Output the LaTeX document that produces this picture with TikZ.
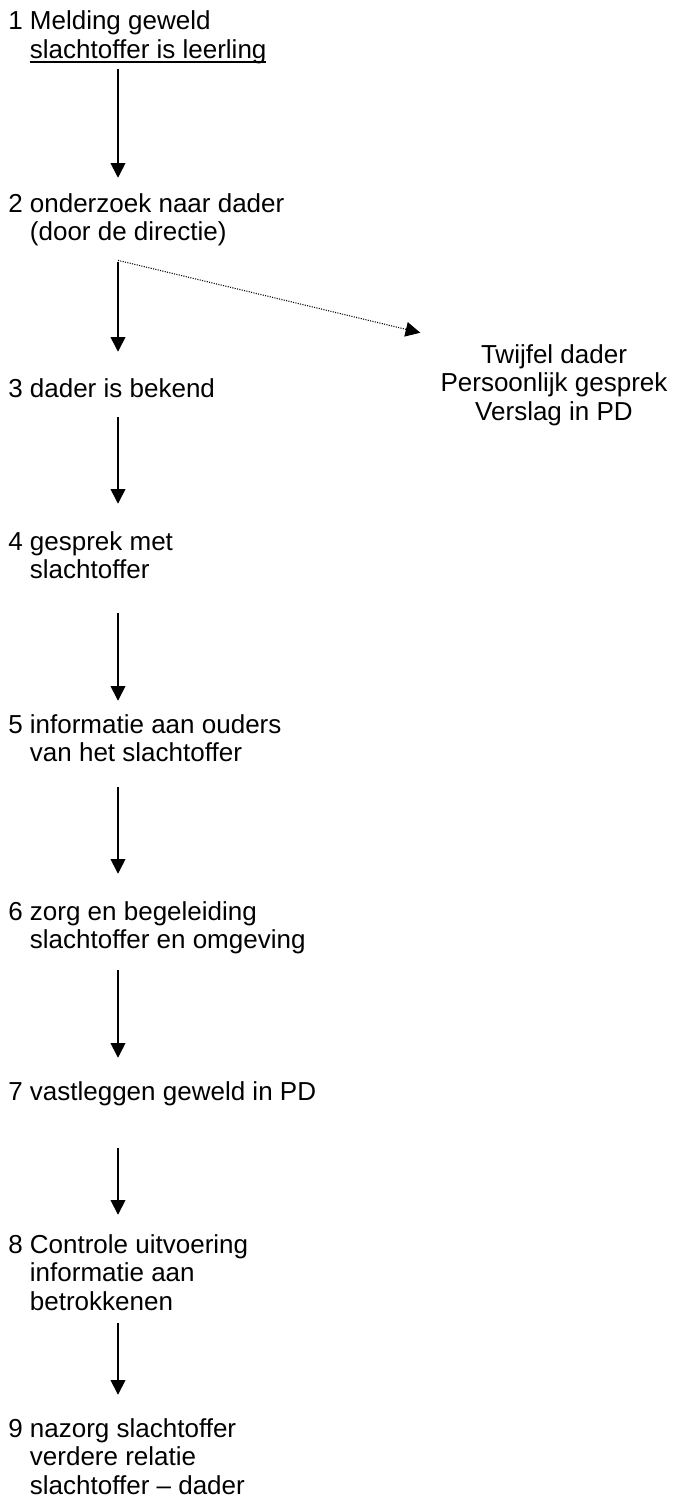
\documentclass[tikz,border=0pt]{standalone}
\usepackage{fontspec}
\setmainfont{Liberation Sans}
\usetikzlibrary{arrows.meta}

\newcommand{\stap}[2]{\begin{tabular}[t]{@{}l@{\ }l@{}}#1 & #2\end{tabular}}
\newcommand{\onderlijn}[1]{\setbox0\hbox{#1}\rlap{\rule[-3pt]{\wd0}{0.9pt}}\box0}

\begin{document}
\begin{tikzpicture}[x=0.75pt,y=-0.75pt,
  every node/.style={inner sep=0pt,font=\fontsize{19.5pt}{21.4pt}\selectfont},
  stapnode/.style={anchor=base west},
  pijl/.style={line width=1.2pt,-{Triangle[length=11pt,width=11pt]}},
  twijfel/.style={densely dotted,line width=0.8pt,-{Triangle[length=11pt,width=11pt]}}]

% the page
\useasboundingbox (0,0) rectangle (676,1502);
\coordinate (as) at (118,0);

% the steps
\node[stapnode] (s1) at (8,30) {\stap{1}{Melding geweld\\ & \onderlijn{slachtoffer is leerling}}};
\node[stapnode] (s2) at (8,212) {\stap{2}{onderzoek naar dader\\ & (door de directie)}};
\node[stapnode] (s3) at (8,397) {\stap{3}{dader is bekend}};
\node[stapnode] (s4) at (8,550) {\stap{4}{gesprek met\\ & slachtoffer}};
\node[stapnode] (s5) at (8,733) {\stap{5}{informatie aan ouders\\ & van het slachtoffer}};
\node[stapnode] (s6) at (8,920) {\stap{6}{zorg en begeleiding\\ & slachtoffer en omgeving}};
\node[stapnode] (s7) at (8,1100) {\stap{7}{vastleggen geweld in PD}};
\node[stapnode] (s8) at (8,1253) {\stap{8}{Controle uitvoering\\ & informatie aan\\ & betrokkenen}};
\node[stapnode] (s9) at (8,1437) {\stap{9}{nazorg slachtoffer\\ & verdere relatie\\ & slachtoffer – dader}};

% the side branch
\node[anchor=base] (r) at (554,363) {\begin{tabular}[t]{@{}c@{}}Twijfel dader\\Persoonlijk gesprek\\Verslag in PD\end{tabular}};

% the arrows
\draw[pijl] ([yshift=-1.5pt]s1.south -| as) -- ([yshift=10.5pt]s2.north -| as);
\draw[pijl] ([yshift=-9.75pt]s2.south -| as) -- ([yshift=18.75pt]s3.north -| as);
\draw[twijfel] ([yshift=-8.25pt]s2.south -| as) -- ([xshift=-15pt,yshift=7.5pt]r.north west);
\draw[pijl] ([yshift=-8.6pt]s3.south -| as) -- ([yshift=19.5pt]s4.north -| as);
\draw[pijl] ([yshift=-19.5pt]s4.south -| as) -- ([yshift=9pt]s5.north -| as);
\draw[pijl] ([yshift=-12.75pt]s5.south -| as) -- ([yshift=19.5pt]s6.north -| as);
\draw[pijl] ([yshift=-9.75pt]s6.south -| as) -- ([yshift=16.5pt]s7.north -| as);
\draw[pijl] ([yshift=-29.6pt]s7.south -| as) -- ([yshift=13.5pt]s8.north -| as);
\draw[pijl] ([yshift=-3.4pt]s8.south -| as) -- ([yshift=16.5pt]s9.north -| as);

\end{tikzpicture}
\end{document}
